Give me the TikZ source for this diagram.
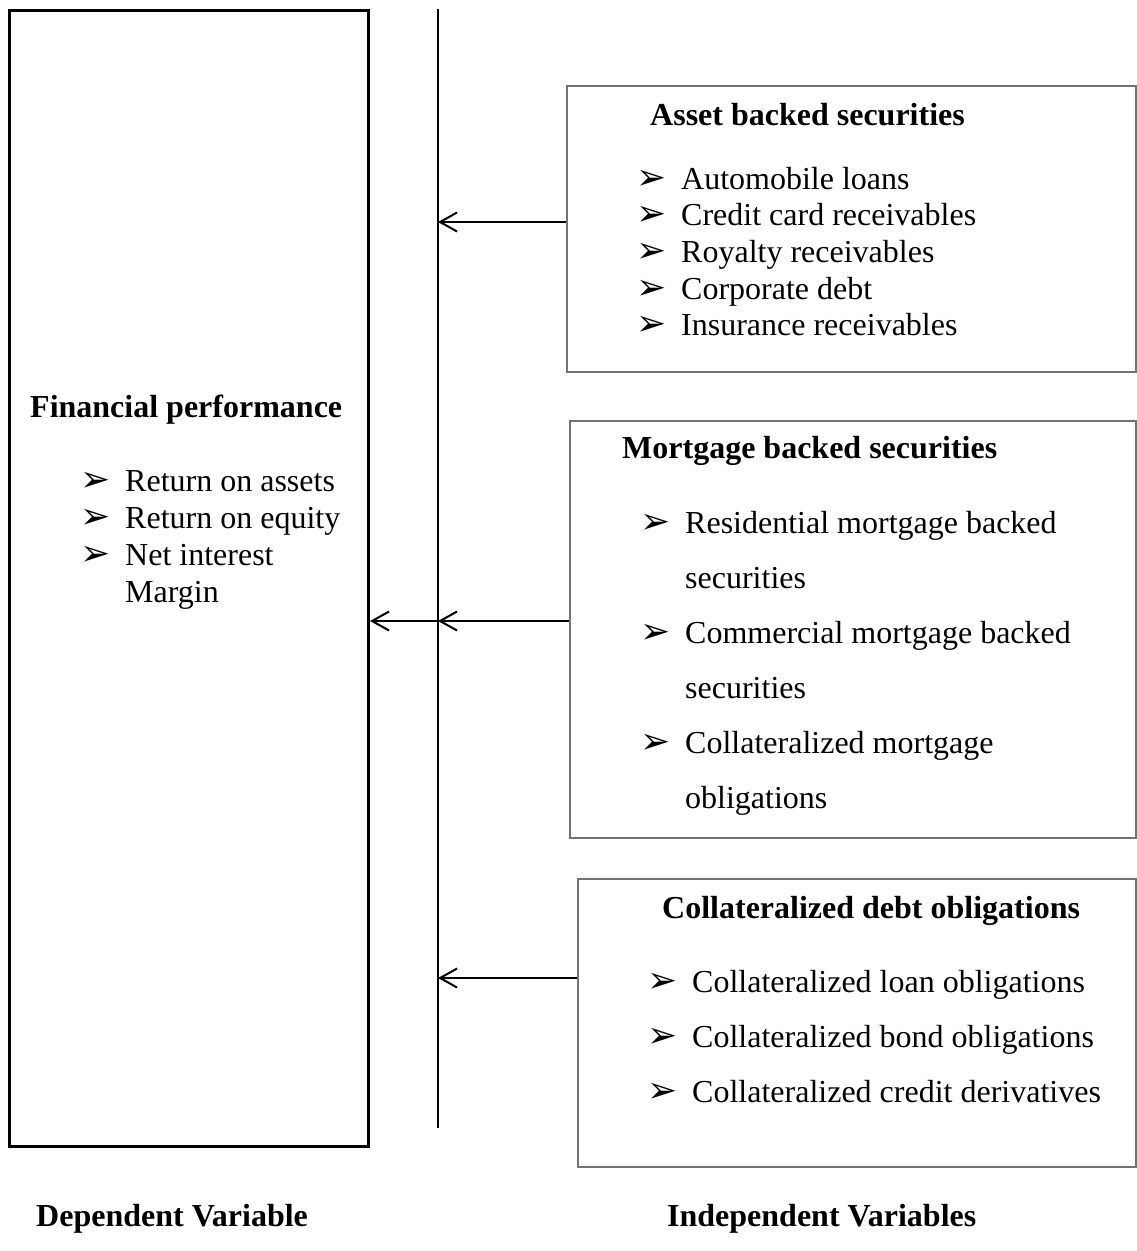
\documentclass[tikz,border=0pt]{standalone}
\usepackage{fontspec}
\setmainfont{Liberation Serif}
\newfontfamily\symfont{DejaVu Sans}
\usetikzlibrary{arrows.meta}

\newcommand\bul{\makebox[45pt][l]{\fontsize{36}{36}\symfont ➢}}

\begin{document}
\begin{tikzpicture}[x=1pt,y=-1pt,
  varbox/.style={draw=black!55,line width=1.6pt,anchor=north west,inner sep=0},
  title/.style={font=\fontsize{32}{36.8}\selectfont\bfseries,anchor=base west,inner sep=0},
  item/.style={font=\fontsize{32}{36.8}\selectfont,anchor=base west,inner sep=0},
  arr/.style={line width=2pt,-{Straight Barb[length=17pt,width=19pt,line width=2pt]}}]
\useasboundingbox (0,0) rectangle (1136,1251);
% boxes
\node[varbox,draw=black,line width=3pt,minimum width=359pt,minimum height=1136pt] (dep) at (8,9) {};
\node[varbox,minimum width=569pt,minimum height=286pt] (abs) at (566,85) {};
\node[varbox,minimum width=566pt,minimum height=417pt] (mbs) at (569,420) {};
\node[varbox,minimum width=558pt,minimum height=288pt] (cdo) at (577,878) {};
% dependent variable
\node[title] (dep-t) at (30,417) {Financial performance};
\foreach \t [count=\i] in {Return on assets,Return on equity,Net interest}
  {\node[item] (dep-\i) at (125,{491+37*(\i-1)}) {\llap{\bul}\t};}
\node[item] (dep-4) at (125,602) {Margin};
% asset backed
\node[title] (abs-t) at (650,125) {Asset backed securities};
\foreach \t [count=\i] in {Automobile loans,Credit card receivables,Royalty receivables,Corporate debt,Insurance receivables}
  {\node[item] (abs-\i) at (681,{189+36.7*(\i-1)}) {\llap{\bul}\t};}
% mortgage backed
\node[title] (mbs-t) at (622,458) {Mortgage backed securities};
\foreach \t/\b [count=\i] in {Residential mortgage backed/1,securities/0,Commercial mortgage backed/1,securities/0,Collateralized mortgage/1,obligations/0}
  {\node[item] (mbs-\i) at (685,{533+55*(\i-1)}) {\ifnum\b=1 \llap{\bul}\fi\t};}
% collateralized debt
\node[title] (cdo-t) at (662,918) {Collateralized debt obligations};
\foreach \t [count=\i] in {Collateralized loan obligations,Collateralized bond obligations,Collateralized credit derivatives}
  {\node[item] (cdo-\i) at (692,{992+55*(\i-1)}) {\llap{\bul}\t};}
% axis and arrows
\coordinate (vtop) at (438,9);
\coordinate (vbot) at (438,1128);
\draw[line width=2pt] (vtop) -- (vbot);
\coordinate (j1) at (438,222);
\coordinate (j2) at (438,621);
\coordinate (j3) at (438,978);
\draw[arr] (abs.west |- j1) -- (j1);
\draw[arr] (mbs.west |- j2) -- (j2);
\draw[arr] (j2) -- (dep.east |- j2);
\draw[arr] (cdo.west |- j3) -- (j3);
% captions
\node[title] (dv) at (36,1226) {Dependent Variable};
\node[title] (iv) at (667,1226) {Independent Variables};
\end{tikzpicture}
\end{document}
